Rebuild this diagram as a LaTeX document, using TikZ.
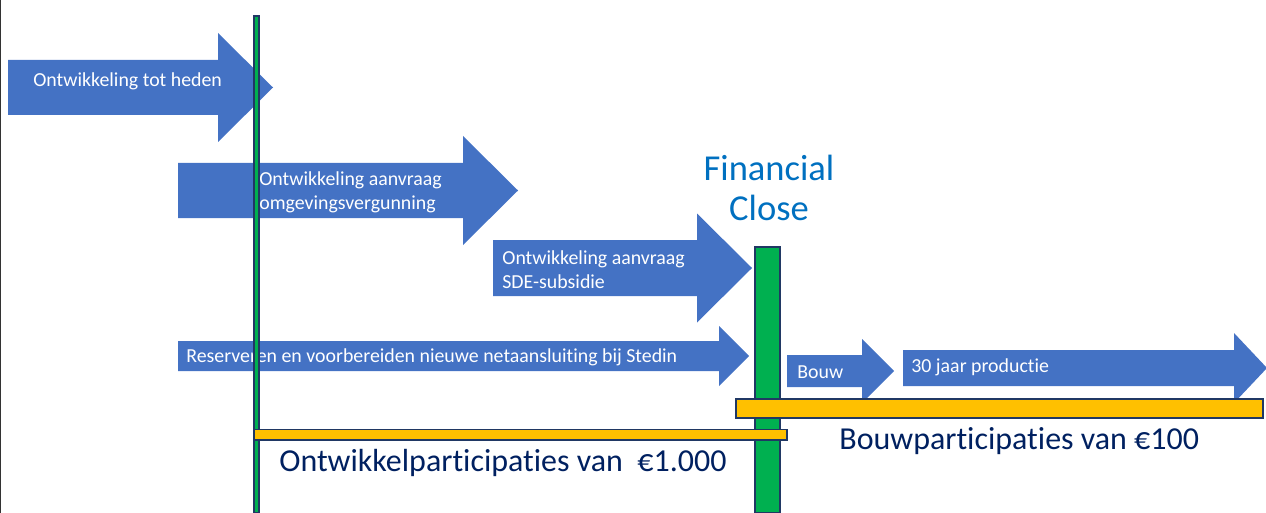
\documentclass[tikz,border=0pt]{standalone}
\usepackage{fontspec}
\setmainfont{Carlito}[Ligatures={NoCommon}]

\definecolor{fase-blauw}{HTML}{4472C4}
\definecolor{mijl-groen}{HTML}{00B050}
\definecolor{part-geel}{HTML}{FFC000}
\definecolor{rand-navy}{HTML}{203864}
\definecolor{close-blauw}{HTML}{0070C0}
\definecolor{part-navy}{HTML}{002060}

\tikzstyle{fase-pijl}=[fill=fase-blauw]
\tikzstyle{fase-tekst}=[text=white,font=\fontsize{11.3}{13.6}\selectfont,anchor=west,align=left,inner sep=0pt]
\tikzstyle{mijlpaal}=[draw=rand-navy,line width=0.6pt,fill=mijl-groen]
\tikzstyle{participatie}=[draw=rand-navy,line width=0.6pt,fill=part-geel]
\tikzstyle{part-tekst}=[text=part-navy,font=\fontsize{18.2}{21}\selectfont,anchor=west,inner sep=0pt]
\tikzstyle{close-tekst}=[text=close-blauw,font=\fontsize{20.8}{22.7}\selectfont,align=center,inner sep=0pt]

% #1 start, #2 kop, #3 punt, #4 midden, #5 halve schacht, #6 halve kop
\newcommand{\fasepijl}[6]{%
  \fill[fase-pijl] (#1,{#4-#5}) -- (#2,{#4-#5}) -- (#2,{#4-#6}) -- (#3,#4)
    -- (#2,{#4+#6}) -- (#2,{#4+#5}) -- (#1,{#4+#5}) -- cycle;}

\begin{document}
\begin{tikzpicture}[x=0.02cm,y=-0.02cm]
    \useasboundingbox (0,0) rectangle (1266,513);
    \draw[black!80,line width=0.85pt] (0.75,0) -- (0.75,513);

    \fasepijl{8}{218}{273}{87.5}{27.5}{54.5}
    \fasepijl{178}{463}{518}{190.5}{27.5}{54.5}
    \fasepijl{493}{697}{752}{268}{28}{54.5}
    \fasepijl{178}{719}{749}{356}{15}{30}
    \fasepijl{787}{862}{894}{371}{16}{32}
    \fasepijl{903}{1234}{1267}{368}{18}{35}

    \node[fase-tekst] (heden)  at (33,81.5) {Ontwikkeling tot heden};
    \node[fase-tekst] (omgev)  at (259,192) {Ontwikkeling aanvraag\\omgevingsvergunning};
    \node[fase-tekst] (sde)    at (502,270) {Ontwikkeling aanvraag\\SDE-subsidie};
    \node[fase-tekst] (net)    at (186,357) {Reserveren en voorbereiden nieuwe netaansluiting bij Stedin};
    \node[fase-tekst] (bouw)   at (797,372) {Bouw};
    \node[fase-tekst] (prod)   at (911,367) {30 jaar productie};

    \draw[mijlpaal] (254,16) rectangle (259,513);
    \draw[mijlpaal] (755,247) rectangle (780,513);

    \draw[participatie] (254,429.5) rectangle (787,440);
    \draw[participatie] (736,399) rectangle (1263,418);

    \node[close-tekst] (close) at (769,188) {Financial\\Close};
    \node[part-tekst]  (ontwp) at (279,463) {Ontwikkelparticipaties van \ €1.000};
    \node[part-tekst]  (bouwp) at (839,441) {Bouwparticipaties van €100};
\end{tikzpicture}
\end{document}
